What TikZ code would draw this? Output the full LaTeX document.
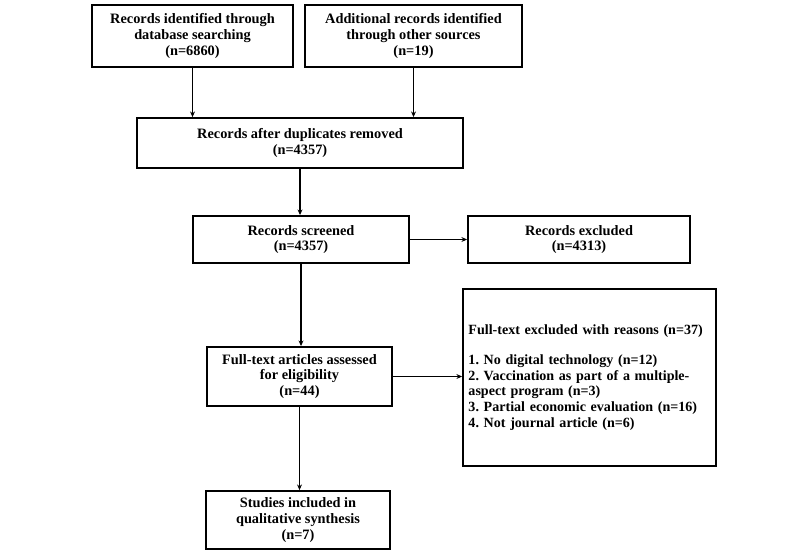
\documentclass[tikz,border=0pt]{standalone}
\usepackage{fontspec}
\setmainfont{Liberation Serif}
\usepackage{tikz}
\usetikzlibrary{arrows.meta}
\tikzset{every edge/.style={draw, line width=0.9pt}}
\tikzset{>={Stealth[length=4pt,width=3.5pt]}}
\tikzset{box/.style={draw, line width=1.3pt, align=center, inner sep=2pt, font=\bfseries\frenchspacing\fontsize{10.2}{11.2}\selectfont}}

\begin{document}
\begin{tikzpicture}[x=0.025cm, y=-0.025cm]       % flow of records
    \path[use as bounding box] (0,0) rectangle (800,554);

    \node[box, minimum width=5.025cm, minimum height=1.55cm] at (192.5, 36) (db) {Records identified through\\database searching\\(n=6860)};
    \node[box, minimum width=5.425cm, minimum height=1.55cm] at (413.5, 36) (other) {Additional records identified\\through other sources\\(n=19)};
    \node[box, minimum width=8.15cm, minimum height=1.25cm] at (300, 143) (dup) {Records after duplicates removed\\(n=4357)};
    \node[box, minimum width=5.4cm, minimum height=1.175cm] at (301, 239.5) (screen) {Records screened\\(n=4357)};
    \node[box, minimum width=5.55cm, minimum height=1.175cm] at (579, 239.5) (excl) {Records excluded\\(n=4313)};
    \node[box, minimum width=4.625cm, minimum height=1.475cm] at (299.5, 376.5) (full) {Full-text articles assessed\\for eligibility\\(n=44)};
    \node[box, minimum width=6.325cm, minimum height=4.425cm, text width=6.05cm, align=left, font=\bfseries\frenchspacing\fontsize{10}{11.2}\selectfont] at (589.5, 377.5) (reasons) {Full-text excluded with reasons (n=37)\\[0.36cm]
        1. No digital technology (n=12)\\
        2. Vaccination as part of a multiple-\\
        aspect program (n=3)\\
        3. Partial economic evaluation (n=16)\\
        4. Not journal article (n=6)};
    \node[box, minimum width=4.6cm, minimum height=1.45cm] at (298, 520) (incl) {Studies included in\\qualitative synthesis\\(n=7)};

    \draw (db.south) edge[->] (db.south |- dup.north);
    \draw (other.south) edge[->] (other.south |- dup.north);
    \draw (dup.south) edge[->] (dup.south |- screen.north);
    \draw (screen) edge[->] (excl);
    \draw (screen.south) edge[->] (screen.south |- full.north);
    \draw (full.east) edge[->] (full.east -| reasons.west);
    \draw (full.south) edge[->] (full.south |- incl.north);
\end{tikzpicture}
\end{document}
